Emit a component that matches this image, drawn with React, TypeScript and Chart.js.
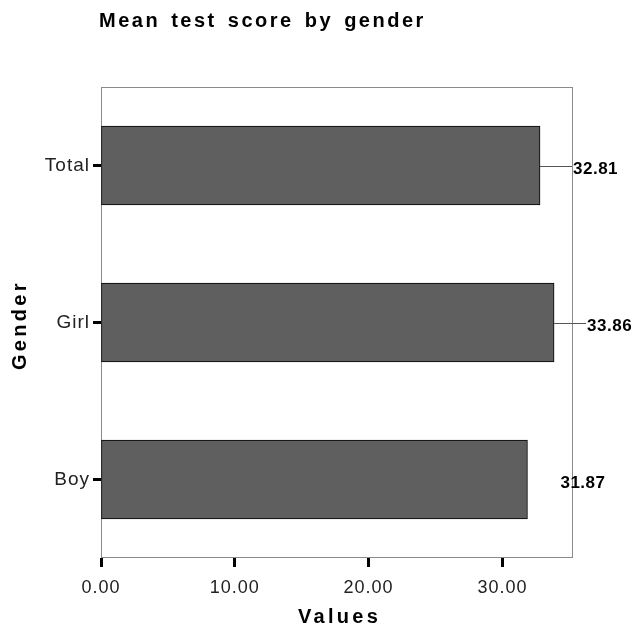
import React, { useEffect, useRef } from 'react';
import { Chart, registerables } from 'chart.js';

Chart.register(...registerables);

const categories = ['Total', 'Girl', 'Boy'];
const meanValues = [32.81, 33.86, 31.87];
const valueLabels = ['32.81', '33.86', '31.87'];
const leaderLines = [true, true, false];
const xTickValues = [0, 10, 20, 30];
const xMin = 0;
const xMax = 35.2;
const titleText = 'Mean test score by gender';
const xTitleText = 'Values';
const yTitleText = 'Gender';

const FONT = '"Liberation Sans", Arial, sans-serif';

const decorPlugin = {
  id: 'decor',
  beforeDraw(chart: any) {
    chart.ctx.letterSpacing = '1px';
  },
  beforeDatasetsDraw(chart: any) {
    const { ctx, chartArea } = chart;
    ctx.save();
    ctx.strokeStyle = '#8a8a8a';
    ctx.lineWidth = 1;
    const l = Math.round(chartArea.left);
    const r = Math.round(chartArea.right);
    const t = Math.round(chartArea.top);
    const b = Math.round(chartArea.bottom);
    ctx.strokeRect(l + 0.5, t + 0.5, r - l, b - t - 1);
    ctx.restore();
  },
  afterDatasetsDraw(chart: any) {
    const { ctx } = chart;
    const meta = chart.getDatasetMeta(0);
    ctx.save();
    meta.data.forEach((bar: any, i: number) => {
      const xEnd = bar.x;
      const yc = bar.y;
      if (leaderLines[i]) {
        ctx.strokeStyle = '#555';
        ctx.lineWidth = 1;
        ctx.beginPath();
        ctx.moveTo(xEnd, Math.round(yc) + 0.5);
        ctx.lineTo(xEnd + 32, Math.round(yc) + 0.5);
        ctx.stroke();
      }
      ctx.letterSpacing = '0.5px';
      ctx.fillStyle = '#000';
      ctx.font = `bold 17px ${FONT}`;
      ctx.textAlign = 'left';
      ctx.textBaseline = 'alphabetic';
      ctx.fillText(valueLabels[i], xEnd + 33, yc + 8);
    });
    ctx.restore();
  },
  afterDraw(chart: any) {
    const { ctx } = chart;
    ctx.save();
    ctx.fillStyle = '#000';
    ctx.textAlign = 'left';
    ctx.textBaseline = 'alphabetic';
    // chart title
    ctx.letterSpacing = '2.5px';
    ctx.wordSpacing = '3px';
    ctx.font = `bold 20px ${FONT}`;
    ctx.fillText(titleText, 99, 27);
    ctx.wordSpacing = '0px';
    // x axis title
    ctx.letterSpacing = '3.3px';
    ctx.font = `bold 20px ${FONT}`;
    ctx.fillText(xTitleText, 298, 623);
    // y axis title
    ctx.translate(26, 370);
    ctx.rotate(-Math.PI / 2);
    ctx.fillText(yTitleText, 0, 0);
    ctx.restore();
  },
};

export default function App() {
  const ref = useRef<HTMLCanvasElement | null>(null);
  useEffect(() => {
    if (!ref.current) return;
    const chart = new Chart(ref.current, {
      type: 'bar',
      data: {
        labels: categories,
        datasets: [
          {
            data: meanValues,
            backgroundColor: '#5f5f5f',
            borderColor: '#000',
            borderWidth: 1,
            borderSkipped: false,
            barThickness: 79,
          },
        ],
      },
      options: {
        indexAxis: 'y',
        responsive: false,
        animation: false,
        events: [],
        layout: { padding: { top: 87, right: 61, left: 0, bottom: 0 } },
        plugins: {
          legend: { display: false },
          tooltip: { enabled: false },
          title: { display: false },
        },
        scales: {
          x: {
            type: 'linear',
            min: xMin,
            max: xMax,
            afterBuildTicks: (s: any) => {
              s.ticks = xTickValues.map((v) => ({ value: v }));
            },
            afterFit: (s: any) => {
              s.height = 74;
            },
            grid: {
              display: true,
              drawOnChartArea: false,
              drawTicks: true,
              tickLength: 9,
              tickWidth: 3,
              tickColor: '#000',
            },
            border: { display: false },
            ticks: {
              autoSkip: false,
              maxRotation: 0,
              padding: 10,
              color: '#222',
              font: { family: FONT, size: 18 },
              callback: (v: any) => Number(v).toFixed(2),
            },
          },
          y: {
            type: 'category',
            offset: true,
            afterFit: (s: any) => {
              s.width = 101;
            },
            grid: {
              display: true,
              offset: false,
              drawOnChartArea: false,
              drawTicks: true,
              tickLength: 8,
              tickWidth: 3,
              tickColor: '#000',
            },
            border: { display: false },
            ticks: {
              padding: 3,
              color: '#222',
              font: { family: FONT, size: 19 },
            },
          },
        },
      },
      plugins: [decorPlugin],
    } as any);
    return () => chart.destroy();
  }, []);
  return (
    <div style={{ position: 'absolute', left: 0, top: 0, width: 633, height: 632, background: '#fff' }}>
      <canvas ref={ref} width={633} height={632} style={{ display: 'block' }} />
    </div>
  );
}
